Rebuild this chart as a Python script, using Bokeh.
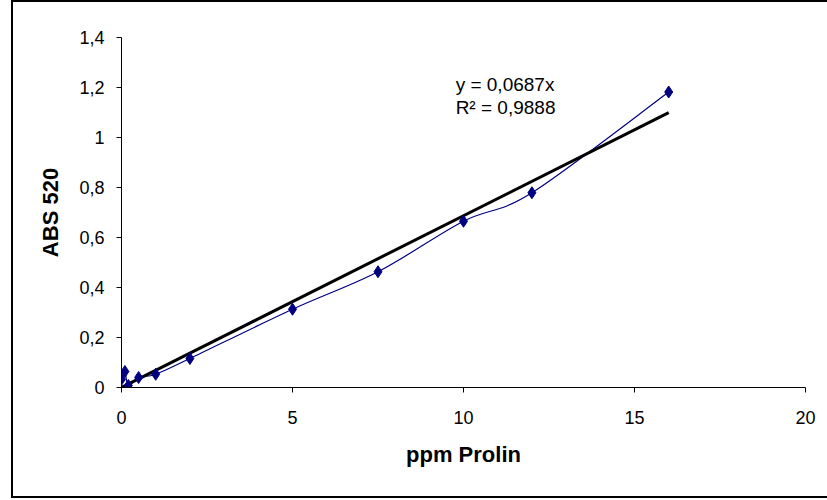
import numpy as np
from bokeh.plotting import figure
from bokeh.models import Range1d, FixedTicker, CustomJSTickFormatter, Label
from bokeh.embed import file_html
from bokeh.resources import INLINE

# data
ppm = [0, 0.1, 0.2, 0.5, 1, 2, 5, 7.5, 10, 12, 16]
abs520 = [0.033, 0.064, 0.008, 0.04, 0.053, 0.116, 0.313, 0.463, 0.665, 0.779, 1.182]
slope = 0.0687
eq_text = "y = 0,0687x"
r2_text = "R² = 0,9888"
x_ticks = [0, 5, 10, 15, 20]
y_ticks = [0, 0.2, 0.4, 0.6, 0.8, 1.0, 1.2, 1.4]

FONT = "Liberation Sans"

p = figure(width=816, height=498, output_backend="svg", toolbar_location=None,
           x_range=Range1d(0, 20), y_range=Range1d(0, 1.4),
           min_border_left=108, min_border_right=24, min_border_top=35, min_border_bottom=113)
p.styles = {"margin-left": "11px",
            "border-left": "2px solid black",
            "border-top": "2px solid black",
            "border-bottom": "2px solid black",
            "border-right": "none",
            "overflow": "hidden"}
p.outline_line_color = None
p.xgrid.visible = False
p.ygrid.visible = False
p.background_fill_color = "white"
p.border_fill_color = "white"

for ax in (p.xaxis[0], p.yaxis[0]):
    ax.axis_line_color = "black"
    ax.major_tick_line_color = "black"
    ax.minor_tick_line_color = None
    ax.major_tick_in = 0
    ax.major_tick_out = 5
    ax.major_label_text_font = FONT
    ax.major_label_text_font_size = "18px"
    ax.major_label_text_color = "black"
    ax.axis_label_text_font = FONT
    ax.axis_label_text_font_size = "22px"
    ax.axis_label_text_font_style = "bold"
    ax.axis_label_text_color = "black"

p.xaxis.ticker = FixedTicker(ticks=x_ticks)
p.yaxis.ticker = FixedTicker(ticks=y_ticks)
p.yaxis.formatter = CustomJSTickFormatter(code="""
    const s = (Math.round(tick * 10) / 10).toString();
    return s.replace('.', ',');
""")
p.xaxis.axis_label = "ppm Prolin"
p.yaxis.axis_label = "ABS 520"
p.xaxis.major_label_standoff = 18
p.yaxis.major_label_standoff = 12
p.xaxis.axis_label_standoff = 15
p.yaxis.axis_label_standoff = 13

# smoothed series line (Catmull-Rom style Bezier through the data points)
xs = np.array(ppm, dtype=float)
ys = np.array(abs520, dtype=float)
n = len(xs)
x0s, y0s, x1s, y1s, cx0, cy0, cx1, cy1 = [], [], [], [], [], [], [], []
for i in range(n - 1):
    im1 = max(i - 1, 0)
    ip2 = min(i + 2, n - 1)
    x0s.append(xs[i]); y0s.append(ys[i])
    x1s.append(xs[i + 1]); y1s.append(ys[i + 1])
    cx0.append(xs[i] + (xs[i + 1] - xs[im1]) / 6.0)
    cy0.append(ys[i] + (ys[i + 1] - ys[im1]) / 6.0)
    cx1.append(xs[i + 1] - (xs[ip2] - xs[i]) / 6.0)
    cy1.append(ys[i + 1] - (ys[ip2] - ys[i]) / 6.0)
p.bezier(x0=x0s, y0=y0s, x1=x1s, y1=y1s, cx0=cx0, cy0=cy0, cx1=cx1, cy1=cy1,
         line_color="#000080", line_width=1.2)

# linear trendline through origin
tx = [0, max(ppm)]
ty = [slope * v for v in tx]
p.line(tx, ty, line_color="black", line_width=3)

p.scatter(ppm, abs520, marker="diamond", size=12, fill_color="#000080", line_color="#000080")

p.add_layout(Label(x=9.77, y=1.256, text=eq_text, text_font=FONT, text_font_size="19px",
                   text_baseline="top", text_color="black"))
p.add_layout(Label(x=9.77, y=1.164, text=r2_text, text_font=FONT, text_font_size="19px",
                   text_baseline="top", text_color="black"))

open("out.html", "w").write(file_html(p, INLINE))
